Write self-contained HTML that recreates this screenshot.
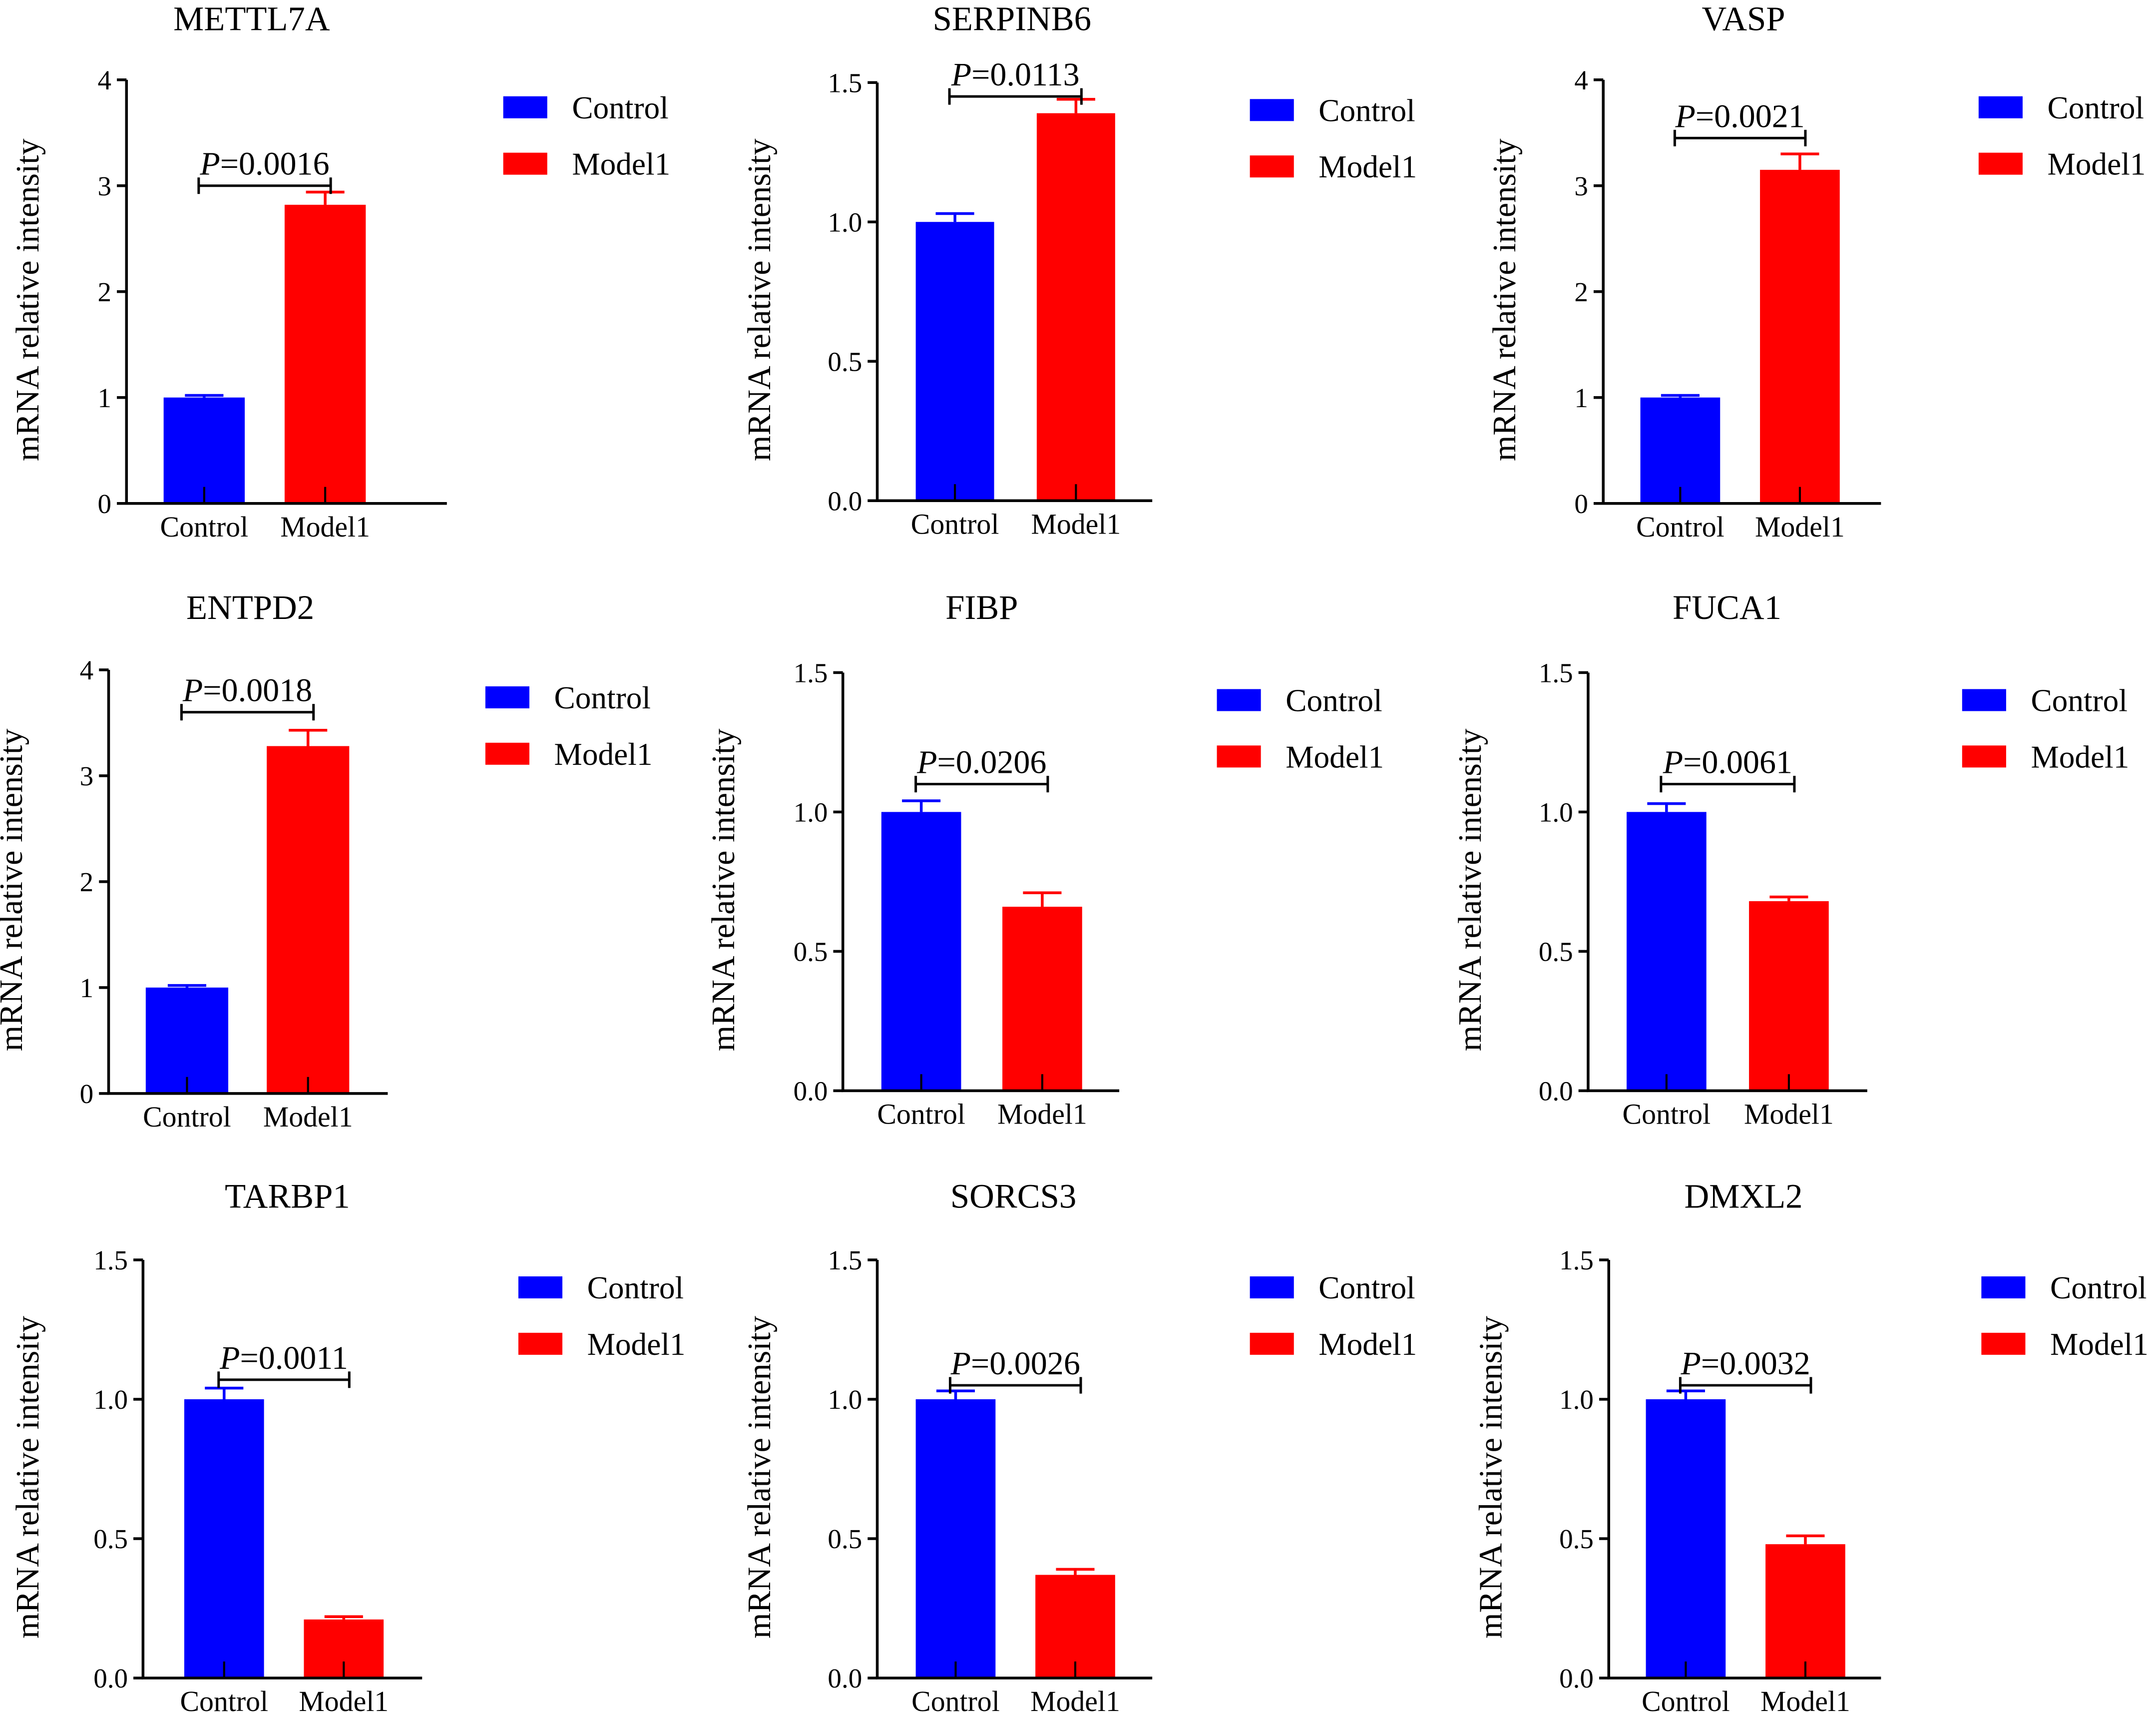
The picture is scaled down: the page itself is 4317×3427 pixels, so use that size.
<!DOCTYPE html>
<html><head><meta charset="utf-8"><style>
html,body{margin:0;padding:0;background:#fff;}
svg{display:block;}
text{font-family:"Liberation Serif",serif;fill:#000;}
</style></head><body>
<svg id="chart" width="4317" height="3427" viewBox="0 0 1568 1244.7" xmlns="http://www.w3.org/2000/svg"></svg>
<script>
const genes = ["METTL7A","SERPINB6","VASP","ENTPD2","FIBP","FUCA1","TARBP1","SORCS3","DMXL2"];
const categories = ["Control","Model1"];
const controlValues = [1.0,1.0,1.0,1.0,1.0,1.0,1.0,1.0,1.0];
const controlErrors = [0.02,0.03,0.02,0.02,0.04,0.03,0.04,0.03,0.03];
const modelValues = [2.82,1.39,3.15,3.28,0.66,0.68,0.21,0.37,0.48];
const modelErrors = [0.12,0.05,0.15,0.15,0.05,0.015,0.01,0.02,0.03];
const pValues = ["0.0016","0.0113","0.0021","0.0018","0.0206","0.0061","0.0011","0.0026","0.0032"];
const bracketValues = [3.0,1.45,3.45,3.6,1.1,1.1,1.07,1.05,1.05];
const yMaxes = [4,1.5,4,4,1.5,1.5,1.5,1.5,1.5];
const ticks4 = ["0","1","2","3","4"];
const ticks15 = ["0.0","0.5","1.0","1.5"];

const layout = [
 {ax:92,top:58,bot:366,b1:119,b2:207,bw:59,end:325,leg:366,tx:183,ty:22,yl:28},
 {ax:638,top:60,bot:364,b1:666,b2:754,bw:57,end:838,leg:909,tx:736,ty:22,yl:560},
 {ax:1166,top:58,bot:366,b1:1193,b2:1280,bw:58,end:1368,leg:1439,tx:1268,ty:22,yl:1102},
 {ax:79,top:487,bot:795,b1:106,b2:194,bw:60,end:282,leg:353,tx:182,ty:450,yl:16},
 {ax:613,top:489,bot:793,b1:641,b2:729,bw:58,end:814,leg:885,tx:714,ty:450,yl:534},
 {ax:1155,top:489,bot:793,b1:1183,b2:1272,bw:58,end:1358,leg:1427,tx:1256,ty:450,yl:1077},
 {ax:104,top:916,bot:1220,b1:134,b2:221,bw:58,end:307,leg:377,tx:209,ty:878,yl:28},
 {ax:638,top:916,bot:1220,b1:666,b2:753,bw:58,end:838,leg:909,tx:737,ty:878,yl:560},
 {ax:1170,top:916,bot:1220,b1:1197,b2:1284,bw:58,end:1368,leg:1441,tx:1268,ty:878,yl:1092}
];
const svg = document.getElementById('chart');
const NS = "http://www.w3.org/2000/svg";
function mk(tag, attrs, parent){const e=document.createElementNS(NS,tag);for(const k in attrs)e.setAttribute(k,attrs[k]);(parent||svg).appendChild(e);return e;}

genes.forEach((g,i)=>{
  const L = layout[i];
  const ymax = yMaxes[i];
  const tl = ymax===4 ? ticks4 : ticks15;
  const step = ymax/(tl.length-1);
  const y = v => L.bot - (v/ymax)*(L.bot-L.top);
  const grp = mk('g',{});
  
  
  let t = mk('text',{x:L.tx,y:L.ty,'font-size':25,'text-anchor':'middle'},grp);
  t.textContent=g;
  
  
  const vals=[controlValues[i],modelValues[i]], errs=[controlErrors[i],modelErrors[i]];
  const xs=[L.b1,L.b2], cols=["#0000ff","#ff0000"];
  vals.forEach((v,j)=>{
    const r = mk('rect',{x:xs[j],y:y(v),width:L.bw,height:L.bot-y(v),fill:cols[j]},grp);
    
    
    const cx = xs[j]+L.bw/2;
    const e = mk('path',{d:`M${cx} ${y(v)} V${y(v+errs[j])} M${cx-14} ${y(v+errs[j])} H${cx+14}`,stroke:cols[j],'stroke-width':2,fill:'none'},grp);
    
    
    mk('line',{x1:cx,y1:L.bot,x2:cx,y2:L.bot-12,stroke:'#000','stroke-width':1.5},grp);
    const xl = mk('text',{x:cx,y:L.bot+24,'font-size':21,'text-anchor':'middle'},grp);
    xl.textContent=categories[j];
    
    
  });
  const axes = mk('path',{d:`M${L.ax} ${L.top} V${L.bot} H${L.end}`,stroke:'#000','stroke-width':2,fill:'none'},grp);
  
  
  tl.forEach((lab,k)=>{
    const yy = y(k*step);
    mk('line',{x1:L.ax-7,y1:yy,x2:L.ax,y2:yy,stroke:'#000','stroke-width':2},grp);
    const tt = mk('text',{x:L.ax-11,y:yy+7,'font-size':20,'text-anchor':'end'},grp);
    tt.textContent=lab;
    
    
  });
  const yt = mk('text',{x:0,y:0,'font-size':24,'text-anchor':'middle',transform:`translate(${L.yl},${(L.top+L.bot)/2+6}) rotate(-90)`},grp);
  yt.textContent='mRNA relative intensity';
  
  
  const bx1 = L.b1+L.bw/2-4, bx2 = L.b2+L.bw/2+4, by = y(bracketValues[i]);
  const br = mk('path',{d:`M${bx1} ${by-6} V${by+6} M${bx1} ${by} H${bx2} M${bx2} ${by-6} V${by+6}`,stroke:'#000','stroke-width':1.8,fill:'none'},grp);
  
  
  const pt = mk('text',{x:(bx1+bx2)/2,y:by-8,'font-size':24,'text-anchor':'middle'},grp);
  const it = mk('tspan',{'font-style':'italic'},pt); it.textContent='P';
  const rest = mk('tspan',{},pt); rest.textContent='='+pValues[i];
  
  
  const ly0 = L.top+20;
  categories.forEach((c,j)=>{
    const ly = ly0 + j*41;
    const sw = mk('rect',{x:L.leg,y:ly-8,width:32,height:16,fill:cols[j]},grp);
    
    
    const lt = mk('text',{x:L.leg+50,y:ly+8,'font-size':23},grp);
    lt.textContent=c;
    
    
  });
});
</script>
</body></html>
